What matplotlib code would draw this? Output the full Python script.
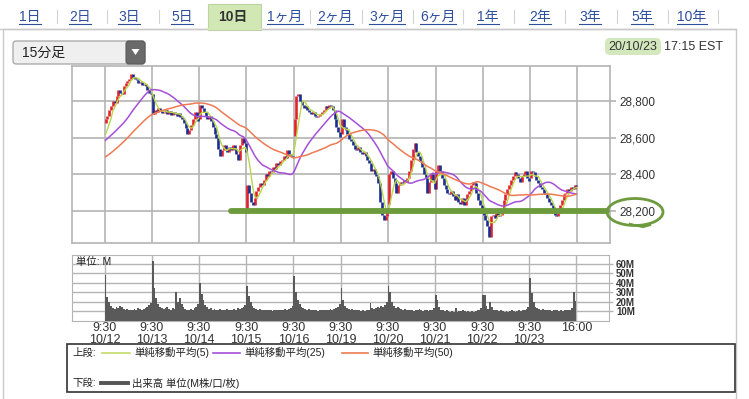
import numpy as np
import pandas as pd
import matplotlib
matplotlib.use("Agg")
import matplotlib.pyplot as plt
from matplotlib.patches import Rectangle, Ellipse, FancyBboxPatch, Polygon
from matplotlib.ticker import FuncFormatter

# Latin text in an Arial-like face, Japanese falls back to Noto CJK
plt.rcParams['font.family'] = ['Liberation Sans', 'Noto Sans CJK JP']

# ---- data (15-min bars, 26 per session) ----
days = ["10/12", "10/13", "10/14", "10/15", "10/16", "10/19", "10/20", "10/21", "10/22", "10/23"]
day_open = [28680, 28840, 28700, 28190, 28610, 28620, 28240, 28320, 28200, 28380]

# last 49 bars before 10/12 (only used to seed the moving averages)
prev_closes = [28380, 28390, 28400, 28385, 28395, 28410, 28400, 28390, 28405, 28400, 28395, 28410,
               28400, 28390, 28400, 28410, 28405, 28395, 28400, 28410, 28400, 28420, 28425,
               28450, 28470, 28500, 28530, 28550, 28560, 28570, 28580, 28590, 28600, 28610, 28620,
               28600, 28590, 28580, 28570, 28580, 28590, 28600, 28590, 28580, 28570, 28590, 28600,
               28620, 28587]

close_1012 = [28700, 28720, 28750, 28770, 28800, 28790, 28830, 28860, 28845, 28840, 28880, 28900, 28910,
              28920, 28950, 28930, 28920, 28915, 28900, 28905, 28890, 28895, 28880, 28860, 28845, 28837]
close_1013 = [28730, 28750, 28740, 28760, 28745, 28735, 28740, 28750, 28730, 28745, 28725, 28740, 28730,
              28720, 28735, 28710, 28700, 28680, 28650, 28620, 28640, 28670, 28700, 28740, 28720, 28690]
close_1014 = [28780, 28760, 28740, 28720, 28700, 28720, 28690, 28660, 28620, 28600, 28540, 28500, 28530,
              28560, 28540, 28520, 28550, 28530, 28560, 28540, 28510, 28480, 28560, 28600, 28570, 28520]
close_1015 = [28340, 28300, 28250, 28230, 28270, 28310, 28330, 28350, 28340, 28370, 28400, 28390, 28420,
              28410, 28440, 28430, 28460, 28450, 28470, 28480, 28500, 28490, 28530, 28510, 28500, 28494]
close_1016 = [28700, 28830, 28840, 28800, 28780, 28760, 28770, 28750, 28740, 28730, 28740, 28720, 28710,
              28720, 28730, 28740, 28750, 28770, 28760, 28780, 28770, 28750, 28700, 28660, 28630, 28606]
close_1019 = [28700, 28660, 28640, 28620, 28590, 28580, 28560, 28540, 28530, 28550, 28520, 28510, 28520,
              28500, 28480, 28460, 28420, 28430, 28400, 28390, 28350, 28250, 28180, 28150, 28170, 28195]
close_1020 = [28400, 28420, 28380, 28350, 28300, 28340, 28360, 28350, 28370, 28360, 28380, 28420, 28480,
              28540, 28570, 28520, 28500, 28470, 28440, 28400, 28380, 28300, 28360, 28400, 28370, 28320]
close_1021 = [28420, 28450, 28420, 28380, 28340, 28320, 28300, 28290, 28310, 28280, 28260, 28290, 28250,
              28240, 28270, 28230, 28260, 28290, 28310, 28340, 28360, 28350, 28300, 28260, 28230, 28211]
close_1022 = [28180, 28150, 28120, 28060, 28170, 28180, 28160, 28190, 28170, 28180, 28210, 28260, 28290,
              28320, 28340, 28370, 28390, 28410, 28400, 28380, 28360, 28390, 28400, 28420, 28380, 28363]
close_1023 = [28420, 28410, 28390, 28370, 28350, 28330, 28320, 28300, 28290, 28270, 28250, 28230, 28200,
              28180, 28170, 28190, 28230, 28260, 28290, 28300, 28320, 28310, 28330, 28320, 28340, 28335]

# volume, millions
vol_1012 = [48, 25, 20, 16, 14, 13, 15, 14, 16, 15, 13, 12, 13, 12, 11, 12, 13, 12, 14, 13, 12, 13, 14, 15, 17, 19]
vol_1013 = [63, 35, 24, 18, 15, 14, 13, 14, 15, 13, 12, 14, 13, 30, 20, 24, 18, 15, 13, 12, 12, 13, 12, 14, 15, 18]
vol_1014 = [40, 28, 22, 17, 15, 13, 14, 12, 13, 12, 11, 13, 12, 11, 12, 13, 12, 11, 12, 13, 12, 14, 13, 14, 15, 17]
vol_1015 = [37, 26, 20, 16, 14, 13, 12, 13, 12, 11, 12, 11, 12, 11, 10, 11, 12, 11, 12, 11, 12, 13, 12, 13, 14, 16]
vol_1016 = [47, 30, 22, 18, 15, 14, 13, 12, 13, 12, 11, 12, 11, 10, 11, 12, 11, 12, 11, 12, 13, 12, 13, 14, 15, 18]
vol_1019 = [35, 22, 16, 14, 13, 12, 13, 12, 11, 12, 11, 10, 11, 10, 11, 12, 19, 14, 13, 14, 15, 14, 16, 15, 17, 20]
vol_1020 = [37, 30, 20, 16, 14, 15, 14, 13, 12, 13, 12, 11, 12, 11, 10, 11, 12, 13, 11, 10, 12, 11, 10, 11, 12, 14]
vol_1021 = [27, 22, 15, 12, 11, 10, 11, 10, 9, 10, 9, 14, 9, 10, 10, 11, 10, 9, 10, 9, 10, 9, 10, 11, 12, 14]
vol_1022 = [27, 27, 16, 13, 20, 15, 12, 11, 12, 10, 11, 10, 9, 10, 9, 10, 11, 10, 9, 10, 11, 10, 11, 12, 13, 15]
vol_1023 = [45, 29, 20, 15, 14, 13, 12, 13, 12, 11, 12, 11, 10, 11, 12, 11, 10, 11, 10, 11, 12, 11, 12, 14, 30, 21]

closes_by_day = [close_1012, close_1013, close_1014, close_1015, close_1016,
                 close_1019, close_1020, close_1021, close_1022, close_1023]
vols_by_day = [vol_1012, vol_1013, vol_1014, vol_1015, vol_1016,
               vol_1019, vol_1020, vol_1021, vol_1022, vol_1023]

tabs = ["1日", "2日", "3日", "5日", "10日", "1ヶ月", "2ヶ月", "3ヶ月", "6ヶ月", "1年", "2年", "3年", "5年", "10年"]
selected_tab = "10日"

# ---- build bars ----
closes = np.array(sum(closes_by_day, []), dtype=float)
vols = np.array(sum(vols_by_day, []), dtype=float)
n = len(closes)
per_day = len(close_1012)
opens = np.r_[np.nan, closes[:-1]]
for d, o in enumerate(day_open):
    opens[d * per_day] = o
x = np.arange(n) + 0.5

allc = pd.Series(np.r_[prev_closes, closes])
sma5 = allc.rolling(5).mean().values[-n:]
sma25 = allc.rolling(25).mean().values[-n:]
sma50 = allc.rolling(50).mean().values[-n:]

W, H = 749, 399
fig = plt.figure(figsize=(W / 100, H / 100), dpi=100)
fig.patch.set_facecolor('white')

# background / page elements in pixel coords
bg = fig.add_axes([0, 0, 1, 1], zorder=0)
bg.set_xlim(0, W)
bg.set_ylim(H, 0)
bg.axis('off')

bg.add_patch(Rectangle((3, 29), 733, 372, fc='white', ec='#c9c9c9', lw=1))
bg.plot([0, 736], [29, 29], color='#c9c9c9', lw=1)
bg.add_patch(Rectangle((208, 4), 53, 25.5, fc='#d2e8b4', ec='#bcd3a4', lw=0.8))
bg.plot([208.4, 260.6], [29, 29], color='#d2e8b4', lw=1.5)

tab_x = [30, 80, 129, 182, 233, 285, 335, 387, 438, 488, 540, 590, 642, 692]
sep_x = [57, 107, 159, 310, 362, 413, 463, 514, 565, 617, 668, 718]
for sx in sep_x:
    bg.plot([sx, sx], [10, 23], color='#d4d4d4', lw=0.8)

tab_texts = []
for lbl, tx in zip(tabs, tab_x):
    if lbl == selected_tab:
        bg.text(tx, 16.5, lbl, ha='center', va='center', fontsize=10, color='#333333', weight='bold')
    else:
        t = bg.text(tx, 16.5, lbl, ha='center', va='center', fontsize=10, color='#2d4f9e')
        tab_texts.append(t)

# dropdown
bg.add_patch(FancyBboxPatch((13, 41), 132, 23, boxstyle='round,pad=0,rounding_size=3',
                            fc='#efefef', ec='#9a9a9a', lw=0.8))
bg.add_patch(FancyBboxPatch((126, 41), 19, 23, boxstyle='round,pad=0,rounding_size=3',
                            fc='#6a6a6a', ec='#5a5a5a', lw=0.8))
bg.add_patch(Polygon([[131.5, 49], [139.5, 49], [135.5, 55]], closed=True, fc='white', ec='none'))
bg.text(22, 52.5, "15分足", ha='left', va='center', fontsize=10, color='#222222')

# date
bg.add_patch(FancyBboxPatch((605, 38), 56, 17, boxstyle='round,pad=0,rounding_size=5',
                            fc='#d3e9bd', ec='none'))
bg.text(608, 46.5, "20/10/23", ha='left', va='center', fontsize=9, color='#333333')
bg.text(664, 46.5, "17:15 EST", ha='left', va='center', fontsize=9, color='#333333')

# legend box
bg.add_patch(Rectangle((67, 344), 668, 48, fc='white', ec='#333333', lw=1.2))
bg.text(72, 352.5, "上段:", fontsize=7.5, va='center', color='#222222')
legend_items = [("単純移動平均(5)", '#c4dc6a', 102, 130), ("単純移動平均(25)", '#a64fd8', 213, 240),
                ("単純移動平均(50)", '#ef7a52', 342, 368)]
for lbl, col, x0, x1 in legend_items:
    bg.plot([x0, x1], [352.5, 352.5], color=col, lw=1.2)
    bg.text(x1 + 4, 352.5, lbl, fontsize=7.5, va='center', color='#222222')
bg.text(72, 383, "下段:", fontsize=7.5, va='center', color='#222222')
bg.plot([101, 128], [383, 383], color='#555555', lw=2.8)
bg.text(132, 383, "出来高 単位(M株/口/枚)", fontsize=7.5, va='center', color='#222222')

# ---- price chart ----
grid_col = '#b4b4b4'
day_ticks = [i * per_day for i in range(len(days) + 1)]

ax = fig.add_axes([72 / W, 1 - 243 / H, 538 / W, 177 / H], zorder=2)
ax.set_xlim(-18, 278)
ax.set_ylim(28025, 28991)
up = closes >= opens
lo = np.minimum(opens, closes)
hi = np.maximum(opens, closes)
ax.vlines(x[up], lo[up], hi[up], color='#e3232c', lw=1.9, zorder=3)
ax.vlines(x[~up], lo[~up], hi[~up], color='#1b2d8e', lw=1.9, zorder=3)
ax.plot(x, sma5, color='#b9d64a', lw=1.0, zorder=4)
ax.plot(x, sma25, color='#a64fd8', lw=1.1, zorder=4)
ax.plot(x, sma50, color='#ef7a52', lw=1.1, zorder=4)

ax.set_xticks(day_ticks)
ax.set_yticks([28200, 28400, 28600, 28800])
ax.yaxis.set_major_formatter(FuncFormatter(lambda v, p: f"{v:,.0f}"))
ax.yaxis.tick_right()
ax.tick_params(axis='x', length=0, labelbottom=False)
ax.tick_params(axis='y', length=4, width=1.2, color=grid_col, pad=3, labelsize=8.5, labelcolor='#333333')
ax.grid(color=grid_col, lw=1.2, zorder=0)
ax.set_axisbelow(True)
for s in ax.spines.values():
    s.set_color(grid_col)
    s.set_linewidth(1.2)

# hand-drawn support line at 28,200
ax.plot([69.5, 276.5], [28200, 28200], color='#6d9a3c', lw=4.2, solid_capstyle='round',
        zorder=6, clip_on=False)

# ---- volume chart ----
axv = fig.add_axes([72 / W, 1 - 321 / H, 537 / W, 66 / H], zorder=2)
axv.set_xlim(-18, 278)
axv.set_ylim(0, 69)
axv.bar(x, vols, width=1.0, color='#5a5a5a', lw=0, zorder=3)
axv.set_xticks(day_ticks)
axv.set_xticklabels([f"9:30\n{d}" for d in days] + ["16:00"])
axv.set_yticks([10, 20, 30, 40, 50, 60])
axv.set_yticklabels([f"{v}M" for v in [10, 20, 30, 40, 50, 60]])
axv.yaxis.tick_right()
axv.tick_params(axis='x', length=0, pad=1, labelsize=9, labelcolor='#333333')
axv.tick_params(axis='y', length=3, width=1, color=grid_col, pad=2, labelsize=7, labelcolor='#333333')
for lbl in axv.get_xticklabels():
    lbl.set_linespacing(1.0)
for lbl in axv.get_yticklabels():
    lbl.set_fontweight('bold')
axv.grid(color=grid_col, lw=1.0, zorder=0)
axv.set_axisbelow(True)
for s in axv.spines.values():
    s.set_color(grid_col)
axv.text(0.008, 0.89, "単位: M", transform=axv.transAxes, fontsize=7.5, va='center', color='#222222', zorder=5)

# ---- top overlay: circle around 28,200 ----
top = fig.add_axes([0, 0, 1, 1], zorder=10)
top.set_xlim(0, W)
top.set_ylim(H, 0)
top.axis('off')
top.patch.set_alpha(0)
top.add_patch(Ellipse((635, 212), 56, 27, fill=False, ec='#6d9a3c', lw=2.0))
top.plot([630, 643, 650], [224, 227, 225], color='#6d9a3c', lw=1.6)

# underline tab links
fig.canvas.draw()
inv = bg.transData.inverted()
for t in tab_texts:
    bb = t.get_window_extent()
    (x0, y0), (x1, y1) = inv.transform([[bb.x0, bb.y0], [bb.x1, bb.y1]])
    bg.plot([x0, x1], [max(y0, y1) + 0.5] * 2, color='#2d4f9e', lw=0.8)

fig.savefig("out.png", dpi=100)
